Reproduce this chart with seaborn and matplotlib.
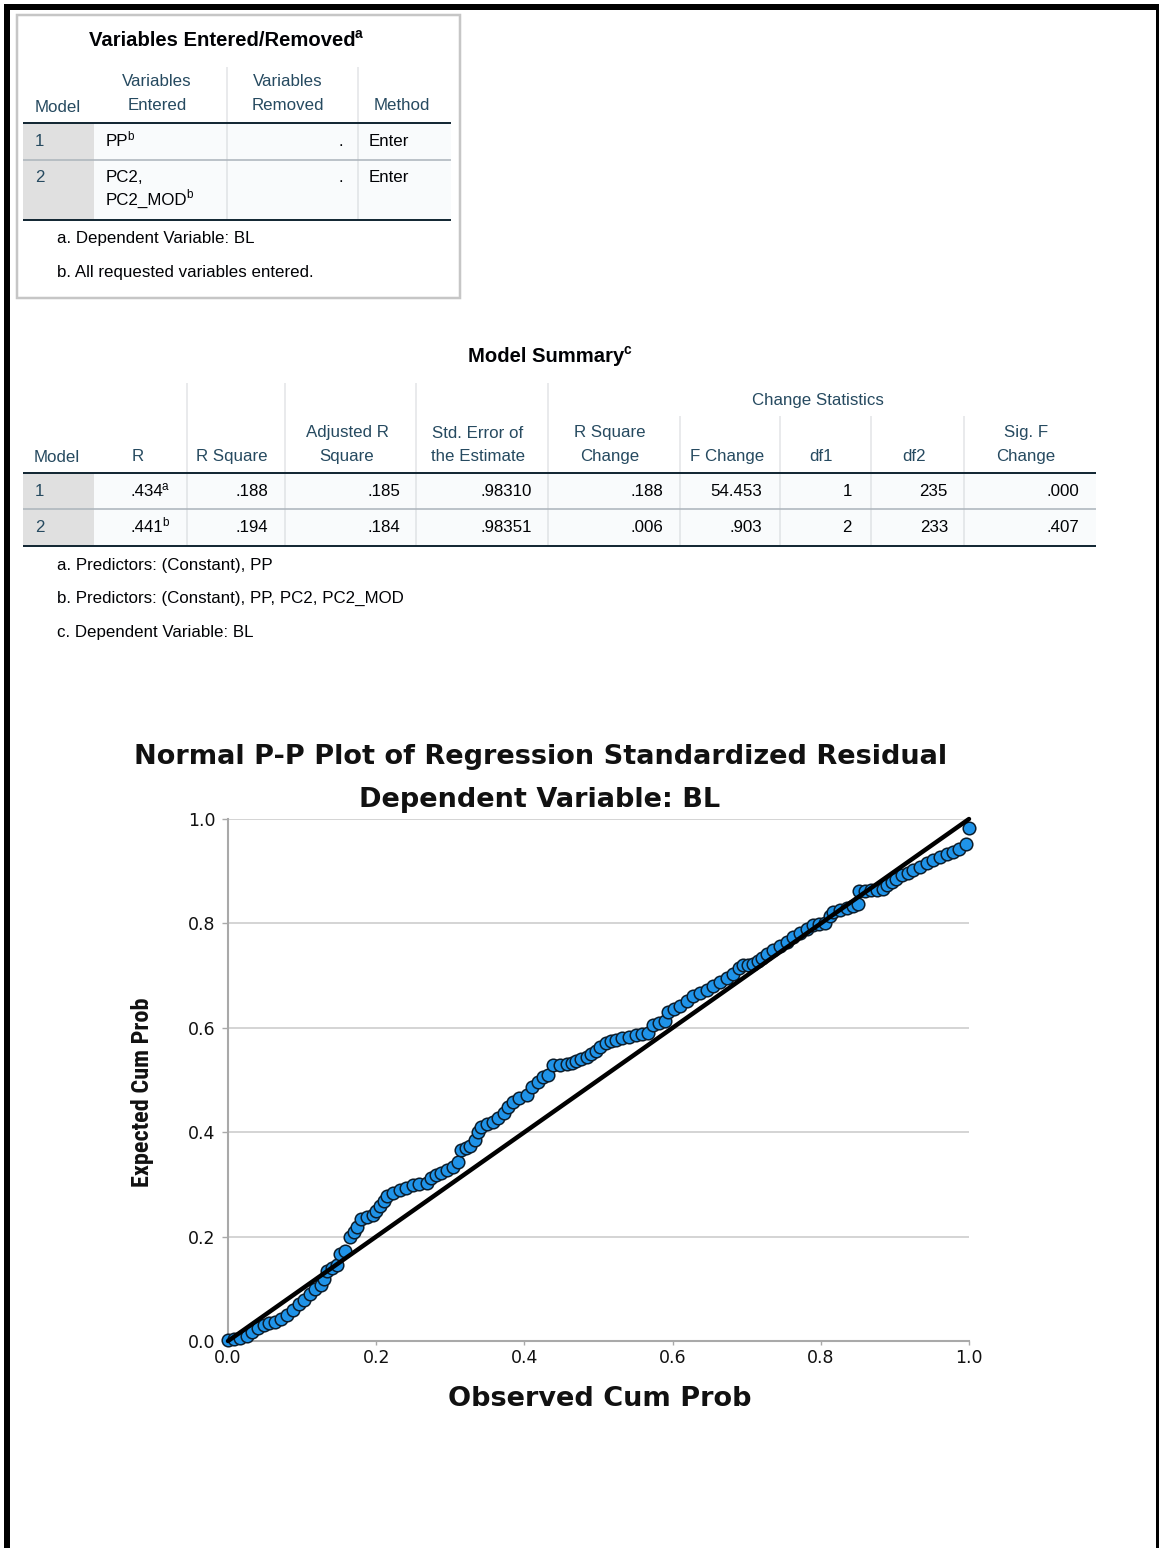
import matplotlib
matplotlib.use("Agg")
import matplotlib.pyplot as plt
from matplotlib import font_manager
from matplotlib.patches import Rectangle
from matplotlib.lines import Line2D
import pandas as pd
import seaborn as sns

# ---------------- Variables Entered/Removed ----------------
entered_models = ["1", "2"]
entered_vars = ["PP", "PC2,\nPC2_MOD"]
removed_vars = [".", "."]
entry_method = ["Enter", "Enter"]
entered_notes = ["a. Dependent Variable: BL", "b. All requested variables entered."]

# ---------------- Model Summary ----------------
summary_models = ["1", "2"]
r_values = [".434", ".441"]
r_marks = ["a", "b"]
r_square = [".188", ".194"]
adj_r_square = [".185", ".184"]
std_error = [".98310", ".98351"]
r_square_change = [".188", ".006"]
f_change = ["54.453", ".903"]
df1 = ["1", "2"]
df2 = ["235", "233"]
sig_f_change = [".000", ".407"]
summary_notes = ["a. Predictors: (Constant), PP",
                 "b. Predictors: (Constant), PP, PC2, PC2_MOD",
                 "c. Dependent Variable: BL"]

# ---------------- Normal P-P plot of standardized residuals ----------------
observed_cum_prob = [
    0.000, 0.008, 0.016, 0.025, 0.033, 0.040, 0.048, 0.056, 0.064, 0.072,
    0.080, 0.088, 0.096, 0.103, 0.110, 0.118, 0.125, 0.130, 0.133, 0.140,
    0.147, 0.151, 0.158, 0.165, 0.170, 0.174, 0.180, 0.188, 0.196, 0.200,
    0.205, 0.210, 0.214, 0.222, 0.232, 0.240, 0.250, 0.258, 0.268, 0.274,
    0.281, 0.288, 0.295, 0.303, 0.311, 0.315, 0.321, 0.327, 0.333, 0.338,
    0.342, 0.350, 0.358, 0.365, 0.372, 0.378, 0.385, 0.393, 0.403, 0.410,
    0.418, 0.425, 0.432, 0.439, 0.448, 0.457, 0.464, 0.470, 0.477, 0.484,
    0.490, 0.496, 0.502, 0.510, 0.517, 0.524, 0.532, 0.541, 0.551, 0.559,
    0.567, 0.574, 0.582, 0.590, 0.594, 0.602, 0.610, 0.619, 0.628, 0.637,
    0.646, 0.655, 0.664, 0.673, 0.682, 0.690, 0.695, 0.702, 0.709, 0.715,
    0.720, 0.728, 0.736, 0.745, 0.754, 0.763, 0.772, 0.781, 0.790, 0.798,
    0.806, 0.812, 0.817, 0.826, 0.835, 0.843, 0.850, 0.852, 0.860, 0.868,
    0.876, 0.884, 0.889, 0.896, 0.902, 0.910, 0.918, 0.925, 0.934, 0.943,
    0.952, 0.961, 0.970, 0.979, 0.987, 0.996, 1.000,
]
expected_cum_prob = [
    0.002, 0.003, 0.006, 0.010, 0.018, 0.024, 0.031, 0.035, 0.037, 0.042,
    0.050, 0.060, 0.070, 0.078, 0.090, 0.100, 0.108, 0.118, 0.135, 0.140,
    0.146, 0.166, 0.172, 0.199, 0.208, 0.219, 0.234, 0.238, 0.241, 0.250,
    0.258, 0.268, 0.277, 0.283, 0.289, 0.294, 0.298, 0.300, 0.302, 0.312,
    0.318, 0.322, 0.328, 0.334, 0.342, 0.365, 0.369, 0.373, 0.385, 0.400,
    0.410, 0.415, 0.420, 0.428, 0.437, 0.448, 0.458, 0.466, 0.472, 0.487,
    0.497, 0.505, 0.509, 0.528, 0.529, 0.530, 0.532, 0.536, 0.540, 0.545,
    0.550, 0.556, 0.563, 0.570, 0.574, 0.577, 0.580, 0.583, 0.586, 0.588,
    0.590, 0.605, 0.609, 0.613, 0.630, 0.636, 0.642, 0.651, 0.660, 0.666,
    0.672, 0.680, 0.688, 0.696, 0.704, 0.714, 0.720, 0.721, 0.722, 0.728,
    0.733, 0.741, 0.749, 0.757, 0.765, 0.773, 0.781, 0.789, 0.797, 0.798,
    0.800, 0.815, 0.822, 0.826, 0.830, 0.833, 0.838, 0.862, 0.863, 0.864,
    0.864, 0.865, 0.874, 0.880, 0.886, 0.892, 0.897, 0.902, 0.909, 0.915,
    0.922, 0.928, 0.933, 0.937, 0.942, 0.952, 0.983,
]
reference_line = [0.0, 1.0]
tick_values = [0.0, 0.2, 0.4, 0.6, 0.8, 1.0]
tick_labels = ["0.0", "0.2", "0.4", "0.6", "0.8", "1.0"]

pp_df = pd.DataFrame({"Observed Cum Prob": observed_cum_prob,
                      "Expected Cum Prob": expected_cum_prob})


def pick_font(*names):
    available = {f.name for f in font_manager.fontManager.ttflist}
    for n in names:
        if n in available:
            return n
    return "DejaVu Sans"


TABLE_FONT = pick_font("Liberation Sans", "Arial")
NARROW_FONT = pick_font("Liberation Sans Narrow", "Roboto Condensed", "Liberation Sans")
CHART_FONT = "DejaVu Sans"

sns.set_theme(style="white")
plt.rcParams["font.family"] = [TABLE_FONT, "DejaVu Sans"]

W, H = 1159, 1548
fig = plt.figure(figsize=(W / 100, H / 100), dpi=100)
fig.patch.set_facecolor("white")
renderer = fig.canvas.get_renderer()

HEAD = "#264a60"
BODY = "#010205"
BODY_PT = 12.2
TITLE_PT = 14.6


def px(x, y):
    return x / W, 1 - y / H


def put(x, y, s, size=BODY_PT, ha="left", va="center", color=BODY,
        weight="normal", family=None):
    kw = {}
    if family is not None:
        kw["family"] = family
    return fig.text(*px(x, y), s, fontsize=size, ha=ha, va=va, color=color,
                    fontweight=weight, **kw)


def sup(t, s, size=8.5, color=BODY, weight="normal"):
    bb = t.get_window_extent(renderer)
    return fig.text((bb.x1 - 1) / W, (bb.y1 + 3) / H, s, fontsize=size,
                    ha="left", va="top", color=color, fontweight=weight)


def hline(x0, x1, y, color, lw_px):
    fig.add_artist(Line2D([x0 / W, x1 / W], [1 - y / H] * 2,
                          transform=fig.transFigure, color=color,
                          lw=lw_px * 0.72, solid_capstyle="butt"))


def vline(x, y0, y1, color, lw_px):
    fig.add_artist(Line2D([x / W] * 2, [1 - y0 / H, 1 - y1 / H],
                          transform=fig.transFigure, color=color,
                          lw=lw_px * 0.72, solid_capstyle="butt"))


def box(x0, y0, x1, y1, face="none", edge="none", lw_px=0):
    fig.add_artist(Rectangle((x0 / W, 1 - y1 / H), (x1 - x0) / W, (y1 - y0) / H,
                             transform=fig.transFigure, facecolor=face,
                             edgecolor=edge, lw=lw_px * 0.72))


def stacked(xc, y_bottom, s, ha="center", color=HEAD, pitch=23):
    lines = s.split("\n")
    n = len(lines)
    out = []
    for i, line in enumerate(lines):
        out.append(put(xc, y_bottom - (n - 1 - i) * pitch, line, ha=ha, color=color))
    return out


# outer page frame
box(4, 4, 10, H, face="black")
box(4, 4, W, 10, face="black")
box(1156, 4, W, H, face="black")

# ================= Variables Entered/Removed =================
box(17, 15, 460, 298, edge="#c6c6c6", lw_px=2.5)
t = put(222, 40, "Variables Entered/Removed", TITLE_PT, ha="center", weight="bold")
sup(t, "a", 10, weight="bold")

for xv in (227, 358):
    vline(xv, 67, 123, "#e2e4e6", 1.5)
stacked(35, 108, "Model", ha="left")
stacked(157, 105, "Variables\nEntered")
stacked(288, 105, "Variables\nRemoved")
stacked(402, 105, "Method")

box(23, 123, 94, 220, face="#e0e0e0")
box(94, 123, 451, 220, face="#f9fbfc")
for xv in (227, 358):
    vline(xv, 123, 220, "#dfe2e5", 1.5)
hline(23, 451, 123, "#152935", 2)
hline(23, 451, 160, "#aeb6bd", 1.6)
hline(23, 451, 220, "#152935", 2)

row_y = [142, 178]
for i in range(len(entered_models)):
    y = row_y[i]
    put(35, y, entered_models[i], color=HEAD)
    lines = entered_vars[i].split("\n")
    last = None
    for j, line in enumerate(lines):
        last = put(106, y + j * 22, line)
    sup(last, "b")
    put(343, y, removed_vars[i], ha="right")
    put(369, y, entry_method[i])

for j, note in enumerate(entered_notes):
    put(57, 238 + j * 35, note)

# ================= Model Summary =================
t = put(546, 356, "Model Summary", TITLE_PT, ha="center", weight="bold")
sup(t, "c", 10, weight="bold")

for xv in (187, 285, 416, 548):
    vline(xv, 383, 473, "#e2e4e6", 1.5)
for xv in (680, 780, 871, 964):
    vline(xv, 416, 473, "#e2e4e6", 1.5)
put(818, 400, "Change Statistics", ha="center", color=HEAD)
stacked(34, 458, "Model", ha="left")
header_specs = [
    (138, "R"), (232, "R Square"), (347, "Adjusted R\nSquare"),
    (478, "Std. Error of\nthe Estimate"), (610, "R Square\nChange"),
    (727, "F Change"), (821, "df1"), (914, "df2"), (1026, "Sig. F\nChange"),
]
for xc, label in header_specs:
    stacked(xc, 456, label)

box(23, 473, 94, 546, face="#e0e0e0")
box(94, 473, 1096, 546, face="#f9fbfc")
for xv in (187, 285, 416, 548, 680, 780, 871, 964):
    vline(xv, 473, 546, "#dfe2e5", 1.5)
hline(23, 1096, 473, "#152935", 2)
hline(23, 1096, 509, "#aeb6bd", 1.6)
hline(23, 1096, 546, "#152935", 2)

summary = pd.DataFrame({
    "R": r_values, "R Square": r_square, "Adjusted R Square": adj_r_square,
    "Std. Error": std_error, "R Square Change": r_square_change,
    "F Change": f_change, "df1": df1, "df2": df2, "Sig. F Change": sig_f_change,
}, index=summary_models)
right_edges = [163, 268, 400, 532, 663, 762, 852, 948, 1079]
summary_y = [491, 528]
for i, model in enumerate(summary.index):
    y = summary_y[i]
    put(35, y, model, color=HEAD)
    for k, col in enumerate(summary.columns):
        tt = put(right_edges[k], y, summary.loc[model, col], ha="right")
        if col == "R":
            sup(tt, r_marks[i])

for j, note in enumerate(summary_notes):
    put(57, 565 + j * 33.5, note)

# ================= Normal P-P plot =================
ax = fig.add_axes([228 / W, 1 - 1341 / H, (969 - 228) / W, (1341 - 819) / H])
ax.set_facecolor("white")
sns.scatterplot(data=pp_df, x="Observed Cum Prob", y="Expected Cum Prob", ax=ax,
                s=82, color="#1f93e8", edgecolor="#0c1d2b", linewidth=1.1,
                clip_on=False, zorder=3, legend=False)
sns.lineplot(x=reference_line, y=reference_line, ax=ax, color="black",
             linewidth=3.2, zorder=4, clip_on=False)

ax.set_xlim(0, 1)
ax.set_ylim(0, 1)
ax.set_xticks(tick_values)
ax.set_xticklabels(tick_labels, family=CHART_FONT, fontsize=12.5, color="#111111")
ax.set_yticks(tick_values)
ax.set_yticklabels(tick_labels, family=CHART_FONT, fontsize=12.5, color="#111111")
ax.yaxis.grid(True, color="#c9c9c9", linewidth=1.1)
ax.xaxis.grid(False)
ax.set_axisbelow(True)
for side in ("top", "right"):
    ax.spines[side].set_visible(False)
for side in ("left", "bottom"):
    ax.spines[side].set_color("#a9a9a9")
    ax.spines[side].set_linewidth(1.5)
ax.tick_params(axis="y", length=4, width=1, color="#a9a9a9", pad=5, left=True)
ax.tick_params(axis="x", length=3, width=1, color="#a9a9a9", pad=3, bottom=True)

ax.set_xlabel("Observed Cum Prob", family=CHART_FONT, fontsize=19.5,
              fontweight="bold", color="#111111")
ax.xaxis.set_label_coords((600 - 228) / 741, (1341 - 1399) / 522)
ax.xaxis.label.set_va("center")
ax.set_ylabel("Expected Cum Prob", family=NARROW_FONT, fontsize=17.5,
              fontweight="bold", color="#111111")
ax.yaxis.set_label_coords((143 - 228) / 741, (1341 - 1092) / 522)
ax.yaxis.label.set_va("center")

ax.text((541 - 228) / 741, (1341 - 757) / 522,
        "Normal P-P Plot of Regression Standardized Residual",
        transform=ax.transAxes, ha="center", va="center", family=CHART_FONT,
        fontsize=19.5, fontweight="bold", color="#111111")
ax.text((540 - 228) / 741, (1341 - 800) / 522, "Dependent Variable: BL",
        transform=ax.transAxes, ha="center", va="center", family=CHART_FONT,
        fontsize=19.5, fontweight="bold", color="#111111")

fig.savefig("out.png", dpi=100, facecolor="white")
